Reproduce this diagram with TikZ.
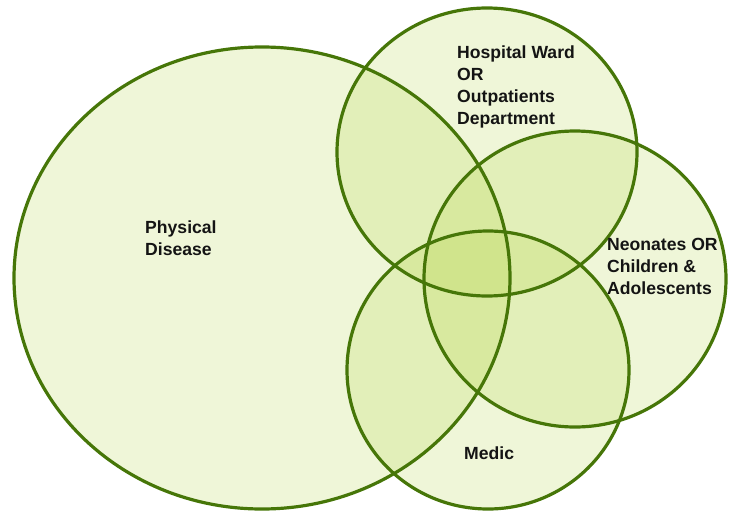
\documentclass[tikz,border=0pt]{standalone}
\usepackage{fontspec}
\setmainfont{Liberation Sans}
\begin{document}
\definecolor{setline}{RGB}{70,118,8}
\definecolor{setfill}{RGB}{176,210,60}
\definecolor{labeltext}{RGB}{20,20,20}
\begin{tikzpicture}[x=1pt,y=-1pt,
  setarea/.style={fill=setfill,fill opacity=0.2,draw=none},
  setedge/.style={draw=setline,line width=3.2pt,fill=none},
  setlabel/.style={anchor=base west,inner sep=0pt,align=left,text=labeltext,
    font=\fontsize{17.6}{22}\selectfont\bfseries}]
\useasboundingbox (0,0) rectangle (740,512);

% set regions: centre and radii of each ellipse
\coordinate (disease) at (262,278);
\coordinate (ward)    at (487,152);
\coordinate (age)     at (575,279);
\coordinate (medic)   at (488,370);

% translucent fills, so the overlaps darken
\fill[setarea] (disease) ellipse [x radius=248, y radius=231];
\fill[setarea] (ward)    ellipse [x radius=150, y radius=144];
\fill[setarea] (age)     ellipse [x radius=151, y radius=148];
\fill[setarea] (medic)   ellipse [x radius=141, y radius=139];

% outlines
\draw[setedge] (disease) ellipse [x radius=248, y radius=231];
\draw[setedge] (ward)    ellipse [x radius=150, y radius=144];
\draw[setedge] (age)     ellipse [x radius=151, y radius=148];
\draw[setedge] (medic)   ellipse [x radius=141, y radius=139];

% labels (base anchor sits on the last line's baseline)
\node[setlabel] (ldisease) at (145,255) {Physical\\Disease};
\node[setlabel] (lward)    at (457,124) {Hospital Ward\\OR\\Outpatients\\Department};
\node[setlabel] (lage)     at (607,294) {Neonates OR\\Children \&\\Adolescents};
\node[setlabel] (lmedic)   at (464,459) {Medic};
\end{tikzpicture}
\end{document}
